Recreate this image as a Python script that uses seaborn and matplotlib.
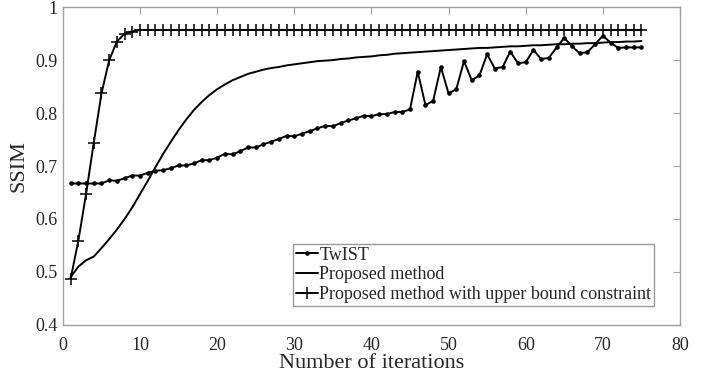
import numpy as np
import pandas as pd
import matplotlib
matplotlib.use('Agg')
import matplotlib.pyplot as plt
import seaborn as sns

# SSIM per iteration
iterations = list(range(1, 76))

twist = [0.667, 0.667, 0.667, 0.667, 0.667, 0.673, 0.672, 0.677, 0.682, 0.682,
         0.687, 0.691, 0.692, 0.696, 0.701, 0.701, 0.705, 0.711, 0.711, 0.716,
         0.723, 0.722, 0.728, 0.735, 0.735, 0.741, 0.746, 0.751, 0.757, 0.756,
         0.761, 0.766, 0.771, 0.776, 0.775, 0.781, 0.786, 0.790, 0.795, 0.794,
         0.798, 0.798, 0.802, 0.802, 0.807, 0.878, 0.815, 0.823, 0.887, 0.837,
         0.845, 0.898, 0.862, 0.871, 0.911, 0.884, 0.887, 0.916, 0.894, 0.896,
         0.919, 0.902, 0.904, 0.924, 0.942, 0.926, 0.913, 0.915, 0.930, 0.946,
         0.933, 0.923, 0.924, 0.924, 0.924]

proposed = [0.490, 0.510, 0.522, 0.529, 0.545, 0.562, 0.580, 0.600, 0.622, 0.647,
            0.672, 0.698, 0.723, 0.746, 0.768, 0.788, 0.806, 0.821, 0.834, 0.845,
            0.854, 0.862, 0.868, 0.874, 0.878, 0.882, 0.885, 0.887, 0.890, 0.892,
            0.894, 0.896, 0.898, 0.899, 0.900, 0.902, 0.903, 0.905, 0.906, 0.907,
            0.909, 0.910, 0.912, 0.913, 0.914, 0.915, 0.916, 0.917, 0.918, 0.919,
            0.920, 0.921, 0.922, 0.923, 0.923, 0.924, 0.925, 0.926, 0.926, 0.927,
            0.928, 0.928, 0.929, 0.930, 0.930, 0.931, 0.931, 0.932, 0.932, 0.933,
            0.934, 0.934, 0.935, 0.935, 0.936]

upper_bound = [0.487, 0.559, 0.647, 0.744, 0.837, 0.900, 0.935, 0.950, 0.954] + [0.957] * 66

df = pd.DataFrame({'iter': iterations, 'TwIST': twist,
                   'Proposed method': proposed,
                   'Proposed method with upper bound constraint': upper_bound})

sns.set_style('white')
plt.rcParams['font.family'] = ['Liberation Serif', 'DejaVu Serif']

fig, ax = plt.subplots(figsize=(7.15, 3.76), dpi=100)
fig.subplots_adjust(left=0.088, right=0.951, top=0.981, bottom=0.136)

sns.lineplot(data=df, x='iter', y='TwIST', ax=ax, color='black', lw=1.4,
             marker='o', markersize=3.3, markeredgewidth=0, markeredgecolor='black',
             label='TwIST')
sns.lineplot(data=df, x='iter', y='Proposed method', ax=ax, color='black', lw=1.4,
             label='Proposed method')
sns.lineplot(data=df, x='iter', y='Proposed method with upper bound constraint', ax=ax,
             color='black', lw=1.4, marker='+', markersize=9, markeredgewidth=1.1,
             markeredgecolor='black',
             label='Proposed method with upper bound constraint')

ax.set_xlim(0, 80)
ax.set_ylim(0.4, 1.0)
ax.set_xticks(range(0, 81, 10))
ax.set_yticks([0.4, 0.5, 0.6, 0.7, 0.8, 0.9, 1.0])
ax.set_yticklabels(['0.4', '0.5', '0.6', '0.7', '0.8', '0.9', '1'])
ax.tick_params(direction='in', top=True, right=True, labelsize=13, length=5,
               color='#a0a0a0')
ax.tick_params(axis='x', pad=9)
ax.tick_params(axis='y', pad=4)
for s in ax.spines.values():
    s.set_color('#a0a0a0')
    s.set_linewidth(1.0)

ax.set_xlabel('Number of iterations', fontsize=16, labelpad=0)
ax.set_ylabel('SSIM', fontsize=16, labelpad=5)

leg = ax.legend(loc='lower right', bbox_to_anchor=(0.958, 0.06), fontsize=13,
                frameon=True, fancybox=False, handlelength=1.2, handletextpad=0.1,
                borderpad=0.15, labelspacing=0.15, borderaxespad=0)
leg.get_frame().set_edgecolor('#808080')
leg.get_frame().set_linewidth(1.0)

plt.savefig('out.png', dpi=100)
